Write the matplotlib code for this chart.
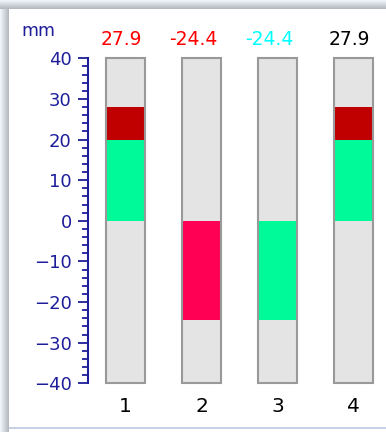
import matplotlib
matplotlib.use("Agg")
import matplotlib.pyplot as plt
from matplotlib.ticker import MultipleLocator
from matplotlib.transforms import offset_copy
import numpy as np

# data
categories = ["1", "2", "3", "4"]
values = [27.9, -24.4, -24.4, 27.9]
limit = 20.0
green_part = [20.0, 0.0, -24.4, 20.0]     # from 0
over_limit = [7.9, 0.0, 0.0, 7.9]         # from limit upwards
pink_part = [0.0, -24.4, 0.0, 0.0]        # from 0
label_colors = ["#ff0000", "#ff0000", "#00ffff", "#000000"]

navy = "#1e1e9a"

fig = plt.figure(figsize=(3.86, 4.32), dpi=100)

# window frame behind everything
W, H = 386, 432
img = np.ones((H, W, 3))
top = np.linspace(0.97, 0.74, 9)
for i, v in enumerate(top):
    img[i, :, :] = [v - 0.03, v - 0.01, v + 0.02]
left = np.linspace(0.97, 0.74, 9)
for j, v in enumerate(left):
    img[9:, j, :] = [v - 0.03, v - 0.01, v + 0.02]
img[427:429, 9:, :] = [0.78, 0.82, 0.90]
bg = fig.add_axes([0, 0, 1, 1], zorder=-1)
bg.imshow(np.clip(img, 0, 1), aspect="auto", interpolation="nearest")
bg.axis("off")

ax = fig.add_axes([88 / W, (H - 383.3) / H, (W - 88) / W, 325 / H])
ax.patch.set_alpha(0)
x = np.arange(1, len(categories) + 1)
width = 39 / 76

ax.bar(x, 80, bottom=-40, width=width, color="#e4e4e4", edgecolor="none", zorder=1)
ax.bar(x, green_part, bottom=0, width=width, color="#00fa9a", edgecolor="none", zorder=2)
ax.bar(x, over_limit, bottom=limit, width=width, color="#c00000", edgecolor="none", zorder=2)
ax.bar(x, pink_part, bottom=0, width=width, color="#ff0055", edgecolor="none", zorder=2)
outl = ax.bar(x, 80, bottom=-40, width=width, fill=False, edgecolor="#999999",
              linewidth=1.5, zorder=3)
for p in outl:
    p.set_clip_on(False)

ax.set_xlim(1 - 37.5 / 76, 4 + 32.5 / 76)
ax.set_ylim(-40, 40)

for s in ["top", "right", "bottom"]:
    ax.spines[s].set_visible(False)
ax.spines["left"].set_color(navy)
ax.spines["left"].set_linewidth(1.5)

ax.yaxis.set_major_locator(MultipleLocator(10))
ax.yaxis.set_minor_locator(MultipleLocator(2))
ax.tick_params(axis="y", which="major", length=7.2, width=1.3, color=navy,
               labelcolor=navy, labelsize=13, pad=4.5)
ax.tick_params(axis="y", which="minor", length=4.3, width=1.3, color=navy)
ax.set_xticks([])

# category labels below the bars
for xi, c in zip(x, categories):
    t = offset_copy(ax.transData, fig=fig, x=0, y=-23, units="dots")
    ax.text(xi, -40, c, transform=t, ha="center", va="center",
            fontsize=14.5, color="black", clip_on=False)

# value labels above the bars
for xi, v, col in zip(x, values, label_colors):
    t = offset_copy(ax.transData, fig=fig, x=-3, y=19, units="dots")
    ax.text(xi + width / 2, 40, f"{v:.1f}", transform=t, ha="right", va="center",
            fontsize=13.5, color=col, clip_on=False)

fig.text(21 / W, 1 - 31 / H, "mm", ha="left", va="center", fontsize=12.5, color=navy)

fig.savefig("out.png", dpi=100)
